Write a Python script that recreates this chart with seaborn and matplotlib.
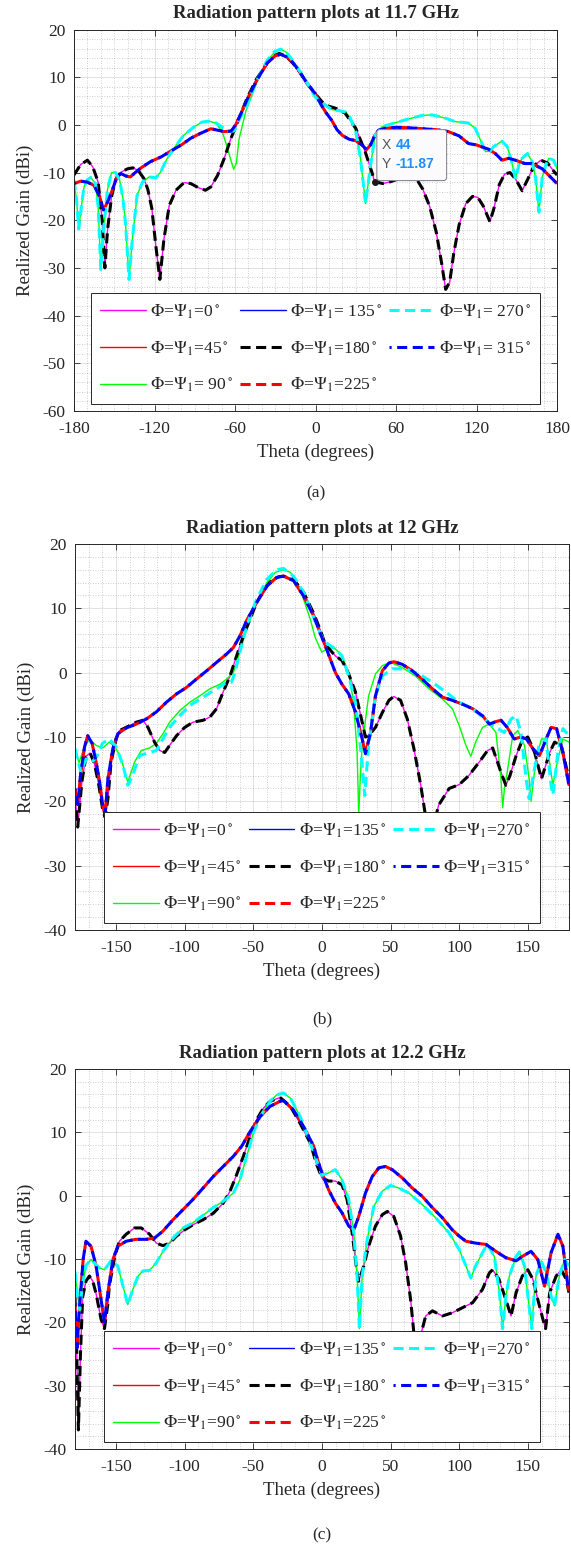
import matplotlib
matplotlib.use("Agg")
import matplotlib.pyplot as plt
import seaborn as sns
from matplotlib.patches import FancyBboxPatch
from matplotlib.ticker import MultipleLocator

# ---------------- panel (a) 11.7 GHz ----------------
theta_a_0 = [-180, -175, -170, -166, -162, -159, -157, -155, -152, -149, -145, -140, -136, -132, -128, -125,
             -122, -119, -116, -113, -109, -104, -98, -93, -87, -82, -78, -73, -68, -63, -58, -51, -44, -36,
             -30, -27, -22, -17, -12, -6, 0, 5, 9, 15, 22, 30, 37, 42, 44, 50, 55, 60, 65, 70, 75, 80, 85,
             90, 94, 97, 100, 103, 107, 112, 117, 121, 125, 130, 133, 137, 141, 145, 149, 154, 158, 163,
             168, 173, 177, 180]
gain_a_0 = [-10.5, -8.3, -7.4, -8.8, -12, -20, -30, -22, -15, -11.5, -9.9, -9.2, -9.0, -9.6, -11.2, -13.5,
            -17.5, -25.4, -32.4, -24, -16.9, -13.7, -12.1, -12.3, -13.2, -13.7, -13.0, -10.6, -7.0, -2.8, 0.7,
            5.6, 9.6, 13, 14.6, 15, 14.4, 13.0, 11.2, 8.6, 6.5, 4.8, 4.0, 3.5, 2.5, -0.7, -5.6, -9.9, -11.87,
            -12.3, -12, -11.5, -11, -10.8, -11.2, -13.5, -17, -22.5, -29, -34.5, -33, -27, -21, -16.5, -15,
            -15.2, -17, -20.3, -17.5, -12.5, -10.3, -10, -11.3, -13.8, -11.5, -8.5, -7.4, -8, -9.5, -10.5]

theta_a_45 = [-180, -175, -170, -165, -161, -158, -155, -151.5, -148, -145, -141.5, -138, -134, -130, -123,
              -115, -108, -100, -93, -86, -78, -73, -68, -63, -59.5, -56, -51, -43.5, -36, -30, -26, -21,
              -16, -12, -6, 0, 4, 8, 12, 16, 20, 25, 30, 35, 38, 41, 44, 47, 52, 60, 70, 80, 90, 99, 107,
              114, 120, 124, 129, 134, 139, 144, 149, 156, 161, 169, 174, 180]
gain_a_45 = [-12.3, -11.8, -12, -12.7, -15, -17.8, -16.2, -13.7, -10.9, -10.2, -10.7, -10.9, -9.9, -9, -7.7,
             -6.7, -5.5, -4.2, -2.8, -1.8, -0.8, -1.1, -1.4, -1.3, 0, 2.1, 5.3, 9.5, 13, 14.5, 14.8, 14.2,
             12.8, 11.2, 8.6, 6.5, 4.3, 2.5, 1, -1, -2.2, -3, -3.3, -4.3, -5.2, -4.2, -2.3, -1.1, -0.7, -0.5,
             -0.6, -0.8, -1.0, -1.4, -2.3, -3.9, -4.2, -4.6, -5.1, -6, -7.4, -7, -7.4, -8.1, -8.1, -9.2,
             -10.6, -12.3]

theta_a_90 = [-180, -178, -176.5, -174, -172.5, -170, -167.5, -164, -162, -160, -158, -155, -152, -149, -146,
              -143.5, -141.5, -139, -136.5, -133, -129, -124, -119, -115.5, -110.5, -105.5, -98, -90.5,
              -84.5, -79.5, -74.5, -69.5, -66, -63, -61, -59, -57, -52, -43.5, -36, -31, -26, -22, -18.5,
              -8.5, 0, 4, 8.5, 12.5, 17.5, 22.5, 26, 30, 33.5, 37.3, 41, 44.5, 49.5, 60, 70, 79.5, 87, 97,
              104, 114, 119, 123, 126.7, 130, 133, 139, 143, 146, 149, 152, 154, 158, 161.5, 164, 166.5,
              169, 171.5, 174, 177.5, 180]
gain_a_90 = [-11.6, -16, -21.8, -16, -13, -11.5, -11, -12.3, -17, -30.3, -22, -13.5, -10, -10, -11.5, -15.5,
             -21, -32.4, -24, -14.8, -12, -10.9, -11.1, -9.9, -7, -4.9, -2.1, -0.4, 0.6, 0.8, 0.4, -1.4,
             -4.5, -7.5, -9.3, -8, -3, 2.8, 9.2, 13.4, 15.1, 15.9, 15.3, 14.1, 9.9, 5.8, 4.8, 3.9, 3.2, 3,
             2.7, 1.4, -1.4, -7, -16.5, -8.5, -2.1, -0.4, 0.5, 1.3, 2, 2.1, 1.4, 0.7, 0.4, -0.7, -3.2,
             -5.6, -5.5, -4.5, -3.4, -4.6, -7.5, -11.3, -8, -7, -6, -7.7, -11, -18.3, -11, -8.5, -7, -7.4,
             -9.2]

theta_a_270 = [-180, -178, -176.5, -174, -172.5, -170, -167.5, -164, -162, -160, -158, -155, -152, -149,
               -146, -143.5, -141.5, -139, -136.5, -133, -129, -124, -119, -115.5, -110.5, -105.5, -98,
               -90.5, -84.5, -79.5, -74, -69, -65, -61, -59, -57, -52, -43.5, -36, -31, -26, -22, -18.5,
               -8.5, 0, 4, 8.5, 12.5, 17.5, 22.5, 26, 30, 33.5, 37.3, 41, 44.5, 49.5, 60, 70, 79.5, 87, 97,
               104, 114, 119, 123, 126.7, 130, 133, 139, 143, 146, 149, 152, 154, 158, 161.5, 164, 166.5,
               169, 171.5, 174, 177.5, 180]
gain_a_270 = [-11.6, -16, -21.8, -16, -13, -11.5, -11, -12.3, -17, -30.3, -22, -13.5, -10, -10, -11.5,
              -15.5, -21, -32.4, -24, -14.8, -12, -10.9, -11.1, -9.9, -7, -4.9, -2.1, -0.4, 0.6, 0.8, 0.4,
              -0.6, -1.2, -1.3, -0.3, 1, 3.5, 9.4, 13.6, 15.3, 15.9, 15.3, 14.1, 9.9, 5.8, 4.8, 3.9, 3.2,
              3, 2.7, 1.4, -1.4, -7, -16.5, -8.5, -2.1, -0.4, 0.5, 1.3, 2, 2.1, 1.4, 0.7, 0.4, -0.7, -3.2,
              -5.6, -5.5, -4.5, -3.4, -4.6, -7.5, -11.3, -8, -7, -6, -7.7, -11, -18.3, -11, -8.5, -7, -7.4,
              -9.2]

# ---------------- panel (b) 12 GHz ----------------
theta_b_0 = [-180, -178, -175, -172, -169, -166, -163, -160, -158, -156, -153.7, -150, -147.6, -142.7, -135.4,
             -130.5, -126.8, -122, -118.3, -114.6, -111, -106, -100, -94, -86.6, -81.7, -76.8, -72, -67,
             -62.2, -57.3, -52.4, -47.6, -42.7, -37.8, -31.7, -28, -20.7, -13.4, -6, -1, 2.4, 9.8, 14.6,
             19.5, 24.4, 29.3, 31.7, 34, 39, 44, 48.8, 52.4, 57.3, 62.2, 67, 72, 76, 80, 85, 92.7, 100,
             107, 114.6, 120.7, 124.4, 130.5, 134, 137, 141.5, 146, 150, 155, 160, 166, 169.5, 174.4, 180]
gain_b_0 = [-19, -24, -17, -13, -12.5, -14, -17, -21, -22.5, -19.6, -13.9, -10.3, -9, -8.5, -7.7, -7.4,
            -8.5, -10.8, -12.1, -12.4, -11.3, -9.8, -8.5, -7.7, -7.4, -6.9, -5.6, -3, -0.5, 2.6, 5.7, 8.3,
            10.9, 12.7, 14.1, 14.9, 15, 14.5, 12.5, 9.2, 6.5, 4.4, 2.6, 1.9, -0.2, -3, -7.7, -10, -9.8,
            -8.5, -6.2, -4.3, -3.7, -4.3, -7.2, -11.8, -17.5, -23, -25, -20.6, -18, -17.4, -16, -13.9,
            -12.1, -11.7, -15.5, -17.5, -16, -12.9, -10.5, -10, -12.4, -16.5, -12.4, -10.8, -11.3, -16.5]

theta_b_45 = [-180, -178, -176, -173, -170.7, -167.5, -164.6, -162, -159.8, -158, -156, -152.4, -148.8,
              -142.7, -135.4, -128, -120.7, -113.4, -106, -98.8, -91.5, -84, -76.8, -69.5, -64.6, -59.8,
              -54.9, -47.6, -40, -33, -28, -20.7, -13.4, -6, -1, 2.4, 9.8, 14.6, 19.5, 24.4, 29.3, 31.7,
              35.4, 39, 44, 48.8, 52.4, 58.5, 65.8, 73, 80.5, 87.8, 95, 102.4, 109.8, 117, 122, 126.8,
              130.5, 135, 140, 145, 149, 153.7, 158.5, 163.4, 167, 171, 175.6, 180]
gain_b_45 = [-18, -20.5, -16, -11.5, -9.8, -11, -13.9, -17, -20.6, -22, -16.5, -11.8, -9.5, -8.6, -8, -7.2,
             -6.1, -4.6, -3.3, -2.3, -1, 0.3, 1.6, 2.9, 3.9, 5.7, 8.1, 10.9, 13.5, 14.8, 15, 14.3, 11.9,
             8.8, 6, 4.2, 0, -1.8, -3.3, -6.1, -10.3, -12.6, -9.3, -3.6, 0.3, 1.5, 1.7, 1.3, 0.3, -1,
             -2.5, -3.8, -4.3, -4.9, -5.6, -6.7, -8, -7.6, -7.4, -8.5, -10.3, -10, -10.3, -11.8, -12.9,
             -10.3, -8.5, -8.7, -12.4, -17.5]

theta_b_90 = [-180, -177, -174, -169.5, -164.6, -159.8, -155, -151, -147, -145, -141.5, -136.6, -131.7,
              -125.6, -120.7, -115.9, -111, -103.7, -96.3, -89, -81.7, -74.4, -69.5, -64.6, -59.8, -54.9,
              -47.6, -40.2, -34, -28, -23, -15.9, -8.5, -5, -1, 0, 4.9, 9.8, 14.6, 19.5, 23, 25.6, 26.8, 28,
              29.3, 34, 39, 44, 50, 58.5, 68, 78, 87.8, 95, 100, 104.9, 108.5, 112, 117, 122, 126.8, 130.5,
              131.7, 133, 135, 139, 142.7, 147.6, 151, 152.4, 154, 156, 160, 163.4, 167, 168.3, 171, 175.6,
              180]
gain_b_90 = [-11.8, -14, -12, -10.3, -11.3, -11.7, -10.8, -11.5, -13, -14.4, -17, -13.9, -12.1, -11.7, -11,
             -9.5, -7.7, -5.9, -4.6, -3.6, -2.5, -1.8, -1, 0, 3.2, 6.8, 10.9, 14, 15.6, 16, 15.6, 13, 8.3,
             5.5, 3.6, 3.2, 3.9, 3.7, 2.6, 0, -4.6, -12.3, -22, -16, -11.3, -3.6, -0.2, 1.1, 1.6, 0.8,
             -0.5, -2.5, -4.1, -5.6, -8.2, -11.3, -13, -10.8, -8.5, -8, -9.3, -16.5, -21, -18, -15.5, -9.8,
             -9, -11.3, -16.5, -20, -17, -13.4, -10.3, -10.3, -15.5, -17.5, -14.4, -10.3, -10.8]

theta_b_270 = [-180, -178, -175.6, -172, -168, -164, -160, -155, -150, -145, -141.5, -138, -133, -125.6,
               -120.7, -115.9, -111, -103.7, -96.3, -86.6, -76.8, -69.5, -66, -63.4, -59.8, -54.9, -47.6,
               -40.2, -33, -28, -20.7, -13.4, -6, -1, 2.4, 9.8, 14.6, 19.5, 24.4, 28, 31.2, 34, 39, 44,
               51.2, 61, 70.7, 80.5, 90.2, 100, 109.8, 117, 124.4, 132.9, 137.8, 141.5, 145, 148.8, 151,
               154, 158, 163.4, 167, 168.3, 172, 175.6, 180]
gain_b_270 = [-11.8, -13.5, -15.5, -13.4, -14, -13, -11, -10.3, -11.5, -14.4, -17.5, -16, -12.9, -12.4,
              -12.1, -10.3, -8.5, -6.7, -5.1, -3.8, -2.5, -1.5, -1.5, 0, 3.2, 7.3, 11.4, 14.5, 16, 16.2,
              15, 12.5, 8.6, 6, 4.7, 3.7, 2.6, -0.5, -4.6, -11.3, -19.1, -11.3, -3.6, -0.5, 0.6, 0.6, -0.2,
              -1.5, -3, -4.6, -5.6, -6.9, -8.2, -9.3, -7.2, -6.7, -9.3, -16.5, -19.6, -16, -11.5, -10.3,
              -17.5, -19, -12.4, -8.7, -9.8]

# ---------------- panel (c) 12.2 GHz ----------------
theta_c_0 = [-180, -179, -177.5, -176, -174.4, -172, -169.5, -167, -164.6, -161, -158.5, -156, -155, -151,
             -147.6, -142.7, -136.6, -131.7, -125.6, -120.7, -115.9, -111, -106, -100, -94, -86.6, -79.3,
             -72, -67, -62.2, -57.3, -52.4, -47.6, -42.7, -37.8, -31.7, -30, -23, -15.9, -8.5, -4, 0, 4.9,
             9.8, 14.6, 18.3, 22, 25.6, 26.8, 30.5, 34, 39, 44, 47.6, 52.4, 57.3, 61, 64.6, 66, 68, 72,
             75.6, 80.5, 87.8, 95, 102.4, 109.8, 117, 122, 124.4, 129, 134, 137.8, 141.5, 146, 150, 153.7,
             157.3, 161, 163, 166, 170.7, 174.4, 178, 180]
gain_c_0 = [-16, -22, -37, -25, -16, -13.5, -12.7, -13.5, -15.5, -19.5, -21, -17, -14.3, -9.6, -7.2, -6.1,
            -5.1, -5.1, -6.1, -7.5, -7.9, -7.5, -6.4, -5.4, -4.6, -3.8, -2.8, -1.2, 0.7, 3.3, 6.2, 9.3, 12,
            13.8, 14.9, 15.4, 15.4, 14.1, 11.4, 8.3, 5, 2.8, 2.3, 2.3, 1.7, -0.6, -5.9, -12.2, -13.5, -11.1,
            -8, -4.8, -3, -2.5, -3.3, -6.4, -10.6, -16.4, -19.5, -24, -22, -19, -18.2, -19, -18.5, -17.7,
            -16.9, -14.8, -12.2, -11.7, -13.2, -16.4, -19, -15.3, -12.7, -11.7, -13.2, -16.4, -19.5, -21,
            -15.3, -12.7, -11.7, -13.2, -15.3]

theta_c_45 = [-180, -178.5, -176.5, -174, -172, -168.3, -164.6, -161, -158.5, -156, -152.4, -148.8, -142.7,
              -135.4, -128, -122, -115.9, -108.5, -101.2, -94, -86.6, -79.3, -72, -64.6, -58.5, -52.4, -45,
              -37.8, -30.5, -28, -20.7, -13.4, -6, -3, 0, 4.9, 9.8, 14.6, 19.5, 23.2, 26.8, 31.7, 36.6,
              41.5, 46.3, 51.2, 58.5, 65.8, 73, 80.5, 87.8, 95, 100, 104.9, 112, 119.5, 126.8, 134, 141.5,
              146, 152.4, 157.3, 162.2, 167, 172, 175.6, 179.3, 180]
gain_c_45 = [-17, -24, -17, -10, -7.2, -8, -11.1, -16.4, -20, -15.3, -10.1, -8, -7.2, -6.9, -6.9, -6.7, -5.6,
             -3.8, -2.2, -0.6, 1.2, 3, 4.6, 6.2, 7.8, 10.1, 12.5, 14.1, 14.9, 15, 13.5, 10.9, 7.8, 5.5, 3.6,
             0.9, -1.2, -2.7, -4.8, -5.4, -3.3, 0.4, 3, 4.4, 4.6, 4.1, 2.8, 1.2, -0.1, -1.9, -3.5, -5.4,
             -6.4, -7.2, -7.5, -7.7, -8.8, -9.8, -10.3, -9.6, -8.8, -10.1, -14.3, -9, -6.1, -8, -14.3, -15]

theta_c_90 = [-180, -178, -176.5, -174.5, -172, -168.3, -162.2, -158.5, -153.7, -148.8, -145, -141.5, -137.8,
              -134, -130.5, -125.6, -120.7, -115.9, -108.5, -101.2, -94, -86.6, -79.3, -72, -64.6, -59.8,
              -54.9, -50, -45, -37.8, -33, -28, -23, -15.9, -8.5, -2.4, 0, 4.9, 9.8, 14.6, 19.5, 23.2, 25.6,
              27.3, 29.3, 33, 37.8, 44, 50, 56, 63.4, 73, 82.9, 92.7, 100, 104.9, 108.5, 112, 117, 120.7,
              125.6, 129.3, 131.7, 134, 136.6, 141.5, 143.9, 147.6, 151.2, 153, 154.5, 156, 159.8, 163.4,
              167, 169.5, 173, 176.8, 180]
gain_c_90 = [-12, -16, -18, -14, -11, -10.1, -11.4, -11.7, -10.3, -11.1, -14.3, -17.2, -14.8, -12.7, -11.9,
             -11.8, -10.6, -8.8, -6.7, -5.1, -4.3, -3.1, -1.9, -0.9, 0.4, 2.5, 6.2, 9.9, 12.5, 14.9, 15.9,
             16.2, 15.4, 12.5, 8.3, 4.6, 3.2, 3.6, 4.1, 2.5, -0.6, -5.9, -12.7, -21, -12.7, -6.9, -1.7, 0.7,
             1.6, 1.2, 0.4, -1.4, -3.5, -5.9, -8.5, -11.1, -13, -11.1, -9, -7.7, -9.6, -15.3, -21, -16,
             -12.7, -9.6, -8.9, -11.1, -18, -21, -16, -12.7, -10.3, -12.2, -15.9, -17.4, -12.7, -10.1, -11.1]

phi_labels = ["0", "45", "90", "135", "180", "225", "270", "315"]
labels_a = ["=0", "=45", "= 90", "= 135", "=180", "=225", "= 270", "= 315"]
labels_bc = ["=" + p for p in phi_labels]

titles = ["Radiation pattern plots at 11.7 GHz", "Radiation pattern plots at 12 GHz",
          "Radiation pattern plots at 12.2 GHz"]
captions = ["(a)", "(b)", "(c)"]

# datatip in panel (a)
tip_x = 44
tip_y = -11.87

panels = [
    [(theta_a_0, gain_a_0), (theta_a_45, gain_a_45), (theta_a_90, gain_a_90), (theta_a_45, gain_a_45),
     (theta_a_0, gain_a_0), (theta_a_45, gain_a_45), (theta_a_270, gain_a_270), (theta_a_45, gain_a_45)],
    [(theta_b_0, gain_b_0), (theta_b_45, gain_b_45), (theta_b_90, gain_b_90), (theta_b_45, gain_b_45),
     (theta_b_0, gain_b_0), (theta_b_45, gain_b_45), (theta_b_270, gain_b_270), (theta_b_45, gain_b_45)],
    [(theta_c_0, gain_c_0), (theta_c_45, gain_c_45), (theta_c_90, gain_c_90), (theta_c_45, gain_c_45),
     (theta_c_0, gain_c_0), (theta_c_45, gain_c_45), (theta_c_90, gain_c_90), (theta_c_45, gain_c_45)],
]

colors = ["#ff00ff", "#ff0000", "#00ff00", "#0000ff", "#000000", "#ff0000", "#00ffff", "#0000ff"]
dash = (0, (3.3, 1.8))
dash_off = (2.6, (3.3, 1.8))
linestyles = ["-", "-", "-", "-", dash, dash, dash, dash_off]
widths = [1.0, 1.0, 1.0, 1.0, 2.2, 2.2, 2.2, 2.2]

sns.set_style("ticks")
plt.rcParams["font.family"] = ["Liberation Serif", "DejaVu Serif"]
plt.rcParams["mathtext.fontset"] = "stix"
plt.rcParams["axes.unicode_minus"] = False

fig = plt.figure(figsize=(5.71, 15.49), dpi=100)
rects = [[0.1296, 0.7347, 0.8459, 0.2462],
         [0.1313, 0.3996, 0.8651, 0.2492],
         [0.1313, 0.0646, 0.8651, 0.2453]]
caption_y = [0.6817, 0.3422, 0.0088]
dark = (0.15, 0.15, 0.15)

for k in range(3):
    ax = fig.add_axes(rects[k])
    handles = []
    for i in range(8):
        th, g = panels[k][i]
        sns.lineplot(x=th, y=g, ax=ax, color=colors[i], linewidth=widths[i], estimator=None, sort=False)
        line = ax.lines[-1]
        line.set_linestyle(linestyles[i])
        line.set_dash_capstyle("butt")
        handles.append(line)

    labs = labels_a if k == 0 else labels_bc
    legend_labels = [r"$\Phi$=$\Psi_1$" + s + r"$^\circ$" for s in labs]

    ax.set_xlim(-180, 180)
    if k == 0:
        ax.set_ylim(-60, 20)
        ax.set_xticks(range(-180, 181, 60))
    else:
        ax.set_ylim(-40, 20)
        ax.set_xticks(range(-150, 151, 50))
    ax.xaxis.set_minor_locator(MultipleLocator(10))
    ax.yaxis.set_major_locator(MultipleLocator(10))
    ax.yaxis.set_minor_locator(MultipleLocator(2))

    ax.grid(which="major", color=dark, alpha=0.15, linewidth=0.6)
    ax.grid(which="minor", color=dark, alpha=0.3, linewidth=0.6, linestyle=(0, (1, 2)))
    ax.tick_params(which="major", direction="in", top=True, right=True, length=4, width=0.6,
                   colors=dark, labelsize=12.5, labelcolor=dark)
    ax.tick_params(axis="x", which="major", pad=7)
    ax.tick_params(axis="y", which="major", pad=6)
    ax.tick_params(which="minor", length=0)
    for sp in ax.spines.values():
        sp.set_color(dark)
        sp.set_linewidth(0.7)

    ax.set_xlabel("Theta (degrees)", fontsize=13.5, color=dark, labelpad=5)
    ax.set_ylabel("Realized Gain (dBi)", fontsize=13.5, color=dark, labelpad=6)
    ax.set_title(titles[k], fontsize=13.5, fontweight="bold", pad=8)

    leg = ax.legend(handles, legend_labels, loc="lower center", ncol=3, fontsize=12.6,
                    handlelength=2.6, handletextpad=0.25, columnspacing=0.4, labelspacing=1.05,
                    borderpad=0.55, borderaxespad=0.4, fancybox=False, framealpha=1, edgecolor=dark)
    leg.get_frame().set_linewidth(0.7)

    if k == 0:
        ax.plot([tip_x], [tip_y], "o", color="#1a1a1a", markersize=4, zorder=6)
        box = FancyBboxPatch((tip_x + 1.7, tip_y + 0.2), 52, 10.7,
                             boxstyle="round,pad=0,rounding_size=2.2", mutation_aspect=0.28,
                             facecolor="#fbfbfe", edgecolor="#8a8a96", linewidth=0.8, zorder=6)
        ax.add_patch(box)
        ax.text(tip_x + 5.5, tip_y + 7.6, "X", fontsize=10, color="#555555", family="Liberation Sans",
                va="center", zorder=7)
        ax.text(tip_x + 15.5, tip_y + 7.6, str(tip_x), fontsize=10, color="#1f8fff", fontweight="bold",
                family="Liberation Sans", va="center", zorder=7)
        ax.text(tip_x + 5.5, tip_y + 3.7, "Y", fontsize=10, color="#555555", family="Liberation Sans",
                va="center", zorder=7)
        ax.text(tip_x + 15.5, tip_y + 3.7, "%.2f" % tip_y, fontsize=10, color="#1f8fff",
                fontweight="bold", family="Liberation Sans", va="center", zorder=7)

    r = rects[k]
    fig.text(r[0] + r[2] / 2, caption_y[k], captions[k], fontsize=12.5, ha="center", va="center")

fig.savefig("out.png", dpi=100, facecolor="white")
